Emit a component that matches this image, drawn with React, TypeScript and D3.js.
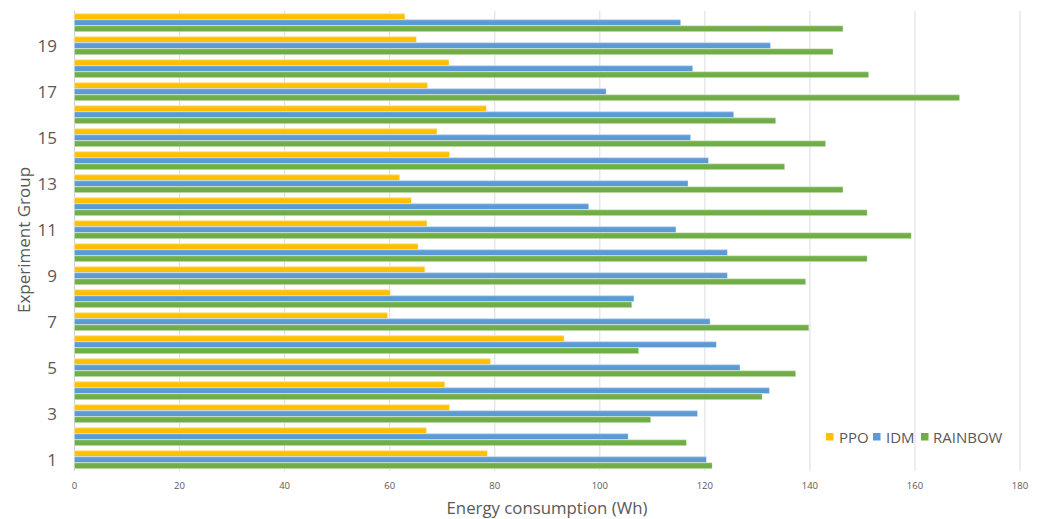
import React from "react";
import * as d3 from "d3";

// Experiment groups 1..20 and energy consumption per algorithm (Wh)
const groups: number[] = d3.range(1, 21);
const seriesNames: string[] = ["PPO", "IDM", "RAINBOW"];
const ppo: number[] = [78.6, 67.0, 71.4, 70.5, 79.2, 93.2, 59.6, 60.1, 66.7, 65.4, 67.1, 64.1, 61.9, 71.4, 69.0, 78.4, 67.2, 71.3, 65.1, 62.9];
const idm: number[] = [120.3, 105.4, 118.6, 132.3, 126.7, 122.2, 121.0, 106.5, 124.3, 124.3, 114.5, 97.9, 116.8, 120.7, 117.3, 125.5, 101.2, 117.7, 132.5, 115.4];
const rainbow: number[] = [121.4, 116.5, 109.7, 130.9, 137.3, 107.4, 139.8, 106.1, 139.2, 150.9, 159.3, 150.9, 146.3, 135.2, 143.0, 133.5, 168.5, 151.2, 144.4, 146.3];
const xTicks: number[] = [0, 20, 40, 60, 80, 100, 120, 140, 160, 180];
const yTickLabels: number[] = [1, 3, 5, 7, 9, 11, 13, 15, 17, 19];

const colors = ["#FFC000", "#5B9BD5", "#70AD47"];
const lightColors = ["#FFD24D", "#7DB1E0", "#8CC06A"];
const seriesValues = [ppo, idm, rainbow];

const W = 1041;
const H = 519;
const FONT = "'Open Sans', 'Liberation Sans', sans-serif";
const TEXT = "#595959";

export default function App() {
  const x = d3.scaleLinear().domain([0, 180]).range([74.5, 1020]);
  const y = d3
    .scaleBand<number>()
    .domain(groups.slice().reverse())
    .range([11, 471])
    .paddingInner(0.2)
    .paddingOuter(0.1);
  const inner = d3
    .scaleBand<string>()
    .domain(seriesNames)
    .range([0, y.bandwidth()]);

  return (
    <svg
      width={W}
      height={H}
      style={{ position: "absolute", left: 0, top: 0, background: "#fff" }}
      fontFamily={FONT}
    >
      <defs>
        {seriesNames.map((s, i) => (
          <linearGradient key={s} id={`g${i}`} x1="0" y1="0" x2="0" y2="1">
            <stop offset="0%" stopColor={lightColors[i]} />
            <stop offset="35%" stopColor={colors[i]} />
            <stop offset="100%" stopColor={colors[i]} />
          </linearGradient>
        ))}
      </defs>

      {/* vertical gridlines */}
      {xTicks.map((t) => (
        <line
          key={t}
          x1={x(t)}
          x2={x(t)}
          y1={11}
          y2={471}
          stroke={t === 0 ? "#d0d0d8" : "#e1e1e8"}
          strokeWidth={1.2}
        />
      ))}

      {/* bars */}
      {groups.map((g, gi) => (
        <g key={g} transform={`translate(0,${y(g)})`}>
          {seriesNames.map((s, si) => (
            <rect
              key={s}
              x={x(0)}
              y={inner(s)}
              width={x(seriesValues[si][gi]) - x(0)}
              height={inner.bandwidth()}
              fill={`url(#g${si})`}
              stroke="#ffffff"
              strokeOpacity={0.5}
              strokeWidth={0.6}
            />
          ))}
        </g>
      ))}

      {/* x tick labels */}
      {xTicks.map((t) => (
        <text
          key={t}
          x={x(t)}
          y={489}
          fontSize={9.5}
          fill={TEXT}
          textAnchor="middle"
        >
          {t}
        </text>
      ))}

      {/* y tick labels */}
      {yTickLabels.map((g) => (
        <text
          key={g}
          x={57}
          y={(y(g) ?? 0) + y.bandwidth() / 2}
          fontSize={17}
          fill={TEXT}
          textAnchor="end"
          dominantBaseline="central"
        >
          {g}
        </text>
      ))}

      {/* axis titles */}
      <text
        x={547}
        y={514}
        fontSize={16.8}
        fill={TEXT}
        textAnchor="middle"
      >
        Energy consumption (Wh)
      </text>
      <text
        transform="translate(30,240) rotate(-90)"
        fontSize={17}
        fill={TEXT}
        textAnchor="middle"
      >
        Experiment Group
      </text>

      {/* legend */}
      {(() => {
        const items = [
          { name: "PPO", sx: 826, tx: 839 },
          { name: "IDM", sx: 873, tx: 886 },
          { name: "RAINBOW", sx: 921, tx: 933 },
        ];
        return items.map((it, i) => (
          <g key={it.name}>
            <rect x={it.sx} y={433} width={7.5} height={7.5} fill={colors[i]} />
            <text
              x={it.tx}
              y={437}
              fontSize={15}
              fill={TEXT}
              dominantBaseline="central"
            >
              {it.name}
            </text>
          </g>
        ));
      })()}
    </svg>
  );
}
